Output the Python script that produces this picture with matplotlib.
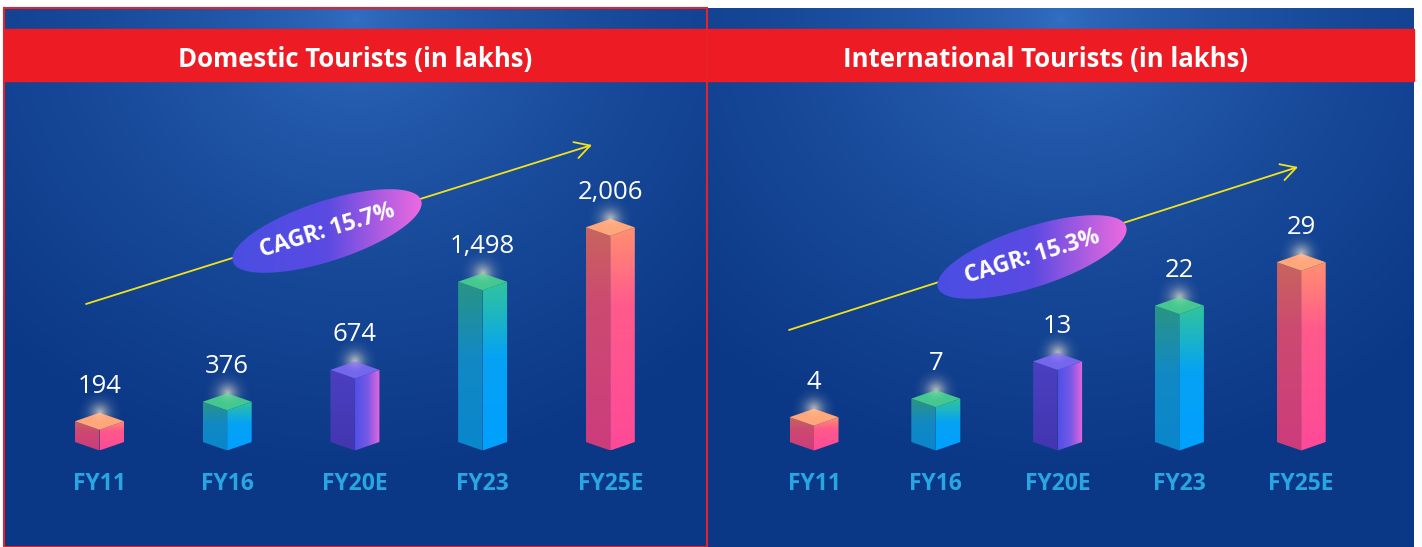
import numpy as np
import matplotlib.pyplot as plt
from matplotlib.patches import Polygon, Rectangle
from matplotlib.colors import to_rgb

plt.rcParams['font.family'] = ['Open Sans', 'DejaVu Sans']

# data
categories = ['FY11', 'FY16', 'FY20E', 'FY23', 'FY25E']
domestic = [194, 376, 674, 1498, 2006]
international = [4, 7, 13, 22, 29]
domestic_labels = ['194', '376', '674', '1,498', '2,006']
international_labels = ['4', '7', '13', '22', '29']
titles = ['Domestic Tourists (in lakhs)', 'International Tourists (in lakhs)']
cagr_text = ['CAGR: 15.7%', 'CAGR: 15.3%']

W, H = 1422, 547
TOP = 8        # white strip above panels (px)
BASE = 442     # pixel row of bar bottoms

# colour schemes: left face stops, right face stops, right face horizontal?, top colour
pink = ([(0, '#c8645e'), (0.35, '#cc4a70'), (1, '#cc3c7c')],
        [(0, '#ff9070'), (0.35, '#ff5a8c'), (1, '#ff4a98')], False, '#ffa67a')
green = ([(0, '#2a9484'), (0.45, '#1289c4'), (1, '#0a86cc')],
         [(0, '#30c49c'), (0.45, '#06a2f4'), (1, '#00a0ff')], False, '#44c890')
purple = ([(0, '#4a40c0'), (1, '#4336b0')],
          [(0, '#5050e6'), (0.5, '#7658e6'), (1, '#e866dc')], True, '#7466ee')
schemes = [pink, green, purple, green, pink]

fig = plt.figure(figsize=(W / 100, H / 100), dpi=100)
fig.patch.set_facecolor('white')


def ramp(stops, n=64):
    t = np.linspace(0, 1, n)
    pos = [s[0] for s in stops]
    cols = np.array([to_rgb(s[1]) for s in stops])
    return np.stack([np.interp(t, pos, cols[:, k]) for k in range(3)], axis=-1)


def grad_fill(ax, verts, stops, horizontal=False, z=3):
    poly = Polygon(verts, closed=True, fc='none', ec='none', zorder=z)
    ax.add_patch(poly)
    xs = [p[0] for p in verts]
    ys = [p[1] for p in verts]
    arr = ramp(stops)
    img = arr[np.newaxis, :, :] if horizontal else arr[:, np.newaxis, :]
    im = ax.imshow(img, extent=(min(xs), max(xs), min(ys), max(ys)), origin='upper',
                   aspect='auto', interpolation='bilinear', zorder=z)
    im.set_clip_path(poly)


# soft glow sprite (RGBA)
g = np.linspace(-1, 1, 81)
GX, GY = np.meshgrid(g, g)
GR = np.sqrt(GX ** 2 + GY ** 2)
glow = np.zeros((81, 81, 4))
glow[..., :3] = to_rgb('#fff0d6')
glow[..., 3] = np.clip(1 - GR, 0, 1) ** 2.2 * 0.55


def panel(x0, x1, xfirst, xstep, ppu, values, labels, title, title_x,
          arrow, ell_c, cagr):
    ax = fig.add_axes([x0 / W, 0, (x1 - x0) / W, (H - TOP) / H])
    xl = ((x0 - xfirst) / xstep, (x1 - xfirst) / xstep)
    yl = ((BASE - H) / ppu, (BASE - TOP) / ppu)

    def to_data(px, py):
        return (px - xfirst) / xstep, (BASE - py) / ppu

    # background radial gradient
    pw, ph = x1 - x0, H - TOP
    X, Y = np.meshgrid(np.arange(pw), np.arange(ph))
    r = np.sqrt(((X - pw * 0.5) / (pw * 0.72)) ** 2 + ((Y - 10) / (ph * 0.85)) ** 2)
    t = np.clip(r, 0, 1) ** 0.6
    light = np.array(to_rgb('#3470c4'))
    dark = np.array(to_rgb('#0b3886'))
    bg = light * (1 - t[..., None]) + dark * t[..., None]
    ax.imshow(bg, extent=(xl[0], xl[1], yl[0], yl[1]), origin='upper',
              aspect='auto', zorder=0)

    hw = 24.5 / xstep
    dd = 8.5 / ppu
    gw, gh = 26 / xstep, 26 / ppu
    for i, v in enumerate(values):
        lf, rf, horiz, topc = schemes[i]
        left = [(i - hw, v), (i, v - dd), (i, -dd), (i - hw, 0)]
        right = [(i, v - dd), (i + hw, v), (i + hw, 0), (i, -dd)]
        top = [(i - hw, v), (i, v + dd), (i + hw, v), (i, v - dd)]
        ax.imshow(glow, extent=(i - gw, i + gw, v + dd - gh, v + dd + gh),
                  aspect='auto', interpolation='bilinear', zorder=1)
        grad_fill(ax, left, lf, z=3)
        grad_fill(ax, right, rf, horizontal=horiz, z=3)
        ax.add_patch(Polygon(top, closed=True, fc=topc, ec='none', zorder=3))
        ax.imshow(glow, extent=(i - gw * 0.6, i + gw * 0.6, v + dd - gh * 0.6, v + dd + gh * 0.6),
                  aspect='auto', interpolation='bilinear', zorder=3.5, alpha=0.6)
        ax.annotate(labels[i], (i, v + dd), xytext=(0, 19), textcoords='offset points',
                    ha='center', va='center', color='white', fontsize=18.5, zorder=6)
        ax.text(i, to_data(0, 484)[1], categories[i], ha='center', va='center',
                color='#29a6e2', fontsize=16.5, fontweight='bold', zorder=6)

    # trend arrow
    ax.annotate('', xy=to_data(*arrow[1]), xytext=to_data(*arrow[0]),
                arrowprops=dict(arrowstyle='->,head_length=0.9,head_width=0.5',
                                color='#f2e21c', lw=1.3, mutation_scale=12,
                                shrinkA=0, shrinkB=0), zorder=4)

    # CAGR ellipse
    th = np.radians(18)
    s = np.linspace(0, 2 * np.pi, 200)
    ex = ell_c[0] + 99 * np.cos(s) * np.cos(th) + 30 * np.sin(s) * np.sin(th)
    ey = ell_c[1] - 99 * np.cos(s) * np.sin(th) + 30 * np.sin(s) * np.cos(th)
    verts = [to_data(a, b) for a, b in zip(ex, ey)]
    grad_fill(ax, verts, [(0, '#4a4ee2'), (0.5, '#5a4ae2'), (1, '#ec6ae0')],
              horizontal=True, z=5)
    cx, cy = to_data(*ell_c)
    ax.text(cx, cy, cagr, ha='center', va='center', rotation=17, color='white',
            fontsize=16.5, fontweight='bold', zorder=6, rotation_mode='anchor')

    ax.set_xlim(xl)
    ax.set_ylim(yl)
    ax.axis('off')

    # header band
    fig.add_artist(Rectangle((x0 / W, 1 - 81 / H), (x1 - x0) / W, 52 / H,
                             transform=fig.transFigure, color='#ed1c24', zorder=10))
    fig.text(title_x / W, 1 - 59 / H, title, ha='center', va='center', color='white',
             fontsize=18.5, fontweight='bold', zorder=11)
    return ax


panel(4, 707, 99.5, 127.7, 0.107, domestic, domestic_labels, titles[0], 355.5,
      ((86, 304), (592, 145)), (327, 231), cagr_text[0])
panel(707, 1414, 814, 121.8, 6.2, international, international_labels, titles[1], 1046,
      ((789, 330), (1298, 167)), (1032, 257), cagr_text[1])

# red outline around the left panel
fig.add_artist(Rectangle((4 / W, 0), 703 / W, (H - TOP) / H, transform=fig.transFigure,
                         fc='none', ec='#e8202a', lw=1.5, zorder=12))

fig.savefig('out.png', dpi=100, facecolor='white')
